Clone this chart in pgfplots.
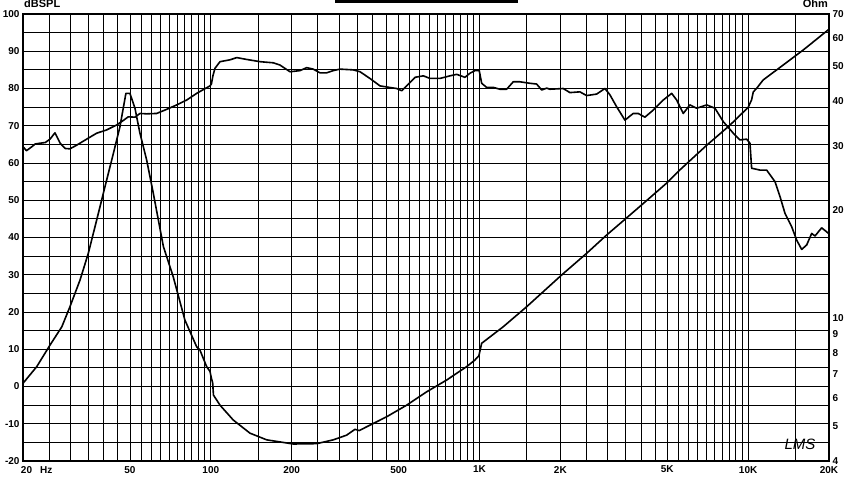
\documentclass[border=0pt]{standalone}
\usepackage{fontspec}
\setmainfont{Liberation Sans}
\usepackage{pgfplots}
\pgfplotsset{compat=1.18}
\pgfplotstableread{
f db
20 64.4
20.6 63.3
21.6 64.4
22.2 65.1
23.1 65.3
24.2 65.5
25.2 66.4
26.3 68.1
27.5 65.3
28.7 63.9
29.9 63.8
31.7 64.8
34.5 66.4
37.6 68.0
41.0 68.9
44.6 70.2
47.2 71.4
49.3 72.4
52.2 72.3
54.5 73.3
57.7 73.2
62.9 73.3
68.5 74.4
74.7 75.6
81.3 76.9
88.6 78.7
99.3 80.7
100.5 81.2
101.9 83.5
103.6 85.4
108.2 87.2
117.9 87.7
124.9 88.3
136.0 87.8
152.5 87.2
170.9 86.9
180.9 86.3
197.1 84.5
214.7 84.8
227.4 85.6
240.6 85.2
254.9 84.2
269.9 84.2
285.6 84.8
302.5 85.2
339.1 85.0
359.1 84.5
391.2 82.7
426.3 80.7
471.3 80.2
491.9 80.0
513.4 79.4
535.9 80.7
575.7 83.0
617.9 83.4
654.5 82.7
713 82.7
776.8 83.4
822.6 83.8
883.1 83.0
921.6 84.1
962 84.8
998 84.8
1019 81.4
1063 80.3
1125 80.3
1192 79.8
1262 79.8
1336 81.8
1414 81.8
1541 81.4
1632 81.2
1704 79.6
1779 80.1
1829 79.8
2050 80.0
2171 78.9
2365 79.1
2504 78.1
2729 78.5
2930 80.0
3059 78.3
3240 75.1
3479 71.5
3735 73.3
3898 73.3
4128 72.3
4433 74.2
4831 76.9
5193 78.7
5420 76.9
5734 73.3
6072 75.6
6431 74.7
7008 75.6
7525 74.7
8081 71.1
8804 68.0
9323 66.2
9873 66.4
10157 65.3
10303 58.6
11065 58.1
11718 58.1
12584 55.0
13136 51.0
13712 46.5
14522 42.9
15158 39.3
15823 36.8
16517 38.0
17240 41.1
17733 40.4
18780 42.6
20000 41.0
}\spl
\pgfplotstableread{
f z
20 6.58
22.5 7.32
25.2 8.40
27.9 9.45
29.9 10.74
32.6 12.74
35.0 15.12
37.6 18.7
40.4 23.2
43.4 28.7
45.9 34.0
48.3 42.1
50.0 42.1
52.2 38.3
54.5 32.6
57.7 27.5
61.1 22.2
66.6 15.8
72.5 13.0
80.1 9.86
88.6 8.31
91.1 8.14
96.5 7.32
99.3 7.1
100.5 6.8
101.6 6.6
102.3 6.1
108.2 5.72
121.2 5.20
139.9 4.78
161.5 4.58
202.8 4.46
247.8 4.47
285.6 4.58
320.3 4.72
344.1 4.90
356.9 4.86
380.4 4.98
451.4 5.31
535.9 5.72
636.1 6.23
755.3 6.72
896 7.32
962 7.64
995 7.85
1019 8.50
1226 9.45
1498 10.74
2022 13.16
2505 15.12
2974 17.0
3479 18.8
4070 20.8
4973 23.7
5573 25.8
7008 30.2
8500 34.2
10000 38.5
10300 40.4
10450 42.5
10760 43.5
11380 45.9
13510 50.5
16040 55.6
20000 63.5
}\imp
\begin{document}
\begin{tikzpicture}[x=1pt,y=1pt]
\begin{axis}[
  at={(0,0)}, anchor=south west, scale only axis,
  width=806pt, height=447pt,
  xmode=log, xmin=20, xmax=20000,
  ymin=-20, ymax=100,
  tick style={draw=none},
  major tick length=0pt, minor tick length=0pt,
  ticklabel style={font=\fontsize{10}{11}\selectfont\bfseries},
  xtick={20,50,100,200,500,1000,2000,5000,10000,20000},
  xticklabels={\hspace{7pt}20\rlap{\hspace{8pt}Hz},50,100,200,500,1K,2K,5K,10K,20K},
  minor xtick={25,30,35,40,45,55,60,65,70,75,80,85,90,95,150,250,300,350,400,450,550,600,650,700,750,800,850,900,950,1500,2500,3000,3500,4000,4500,5500,6000,6500,7000,7500,8000,8500,9000,9500,15000},
  ytick={-20,-10,0,10,20,30,40,50,60,70,80,90,100},
  yticklabels={-20,-10,0,10,20,30,40,50,60,70,80,90,100},
  minor ytick={-15,-5,5,15,25,35,45,55,65,75,85,95},
  xmajorgrids, xminorgrids, ymajorgrids, yminorgrids,
  major grid style={black, line width=0.8pt},
  minor grid style={black, line width=0.8pt},
  axis line style={line width=1.3pt},
  xticklabel style={yshift=-1.5pt},
]
\addplot[black, line width=1.6pt, line join=round] table[x=f, y=db] {\spl};
\end{axis}
\begin{axis}[
  at={(0,0)}, anchor=south west, scale only axis,
  width=806pt, height=447pt,
  xmode=log, xmin=20, xmax=20000,
  ymode=log, ymin=4, ymax=70,
  tick style={draw=none},
  major tick length=0pt, minor tick length=0pt,
  ticklabel style={font=\fontsize{10}{11}\selectfont\bfseries},
  hide x axis,
  axis y line*=right,
  axis line style={line width=1.3pt},
  ytick={4,5,6,7,8,9,10,20,30,40,50,60,70},
  yticklabels={4,5,6,7,8,9,10,20,30,40,50,60,70},
]
\addplot[black, line width=1.6pt, line join=round] table[x=f, y=z] {\imp};
\end{axis}
\node[anchor=base west, inner sep=0, font=\fontsize{11}{12}\selectfont\bfseries] at (1,453.7) {dBSPL};
\node[anchor=base east, inner sep=0, font=\fontsize{11}{12}\selectfont\bfseries] at (805,453) {Ohm};
\fill[black] (312,458) rectangle (495,461);
\node[font=\fontsize{15}{15}\selectfont\itshape] at (777,17) {LMS};
\pgfresetboundingbox
\path (-23,-19) rectangle (828,461);
\end{tikzpicture}
\end{document}
